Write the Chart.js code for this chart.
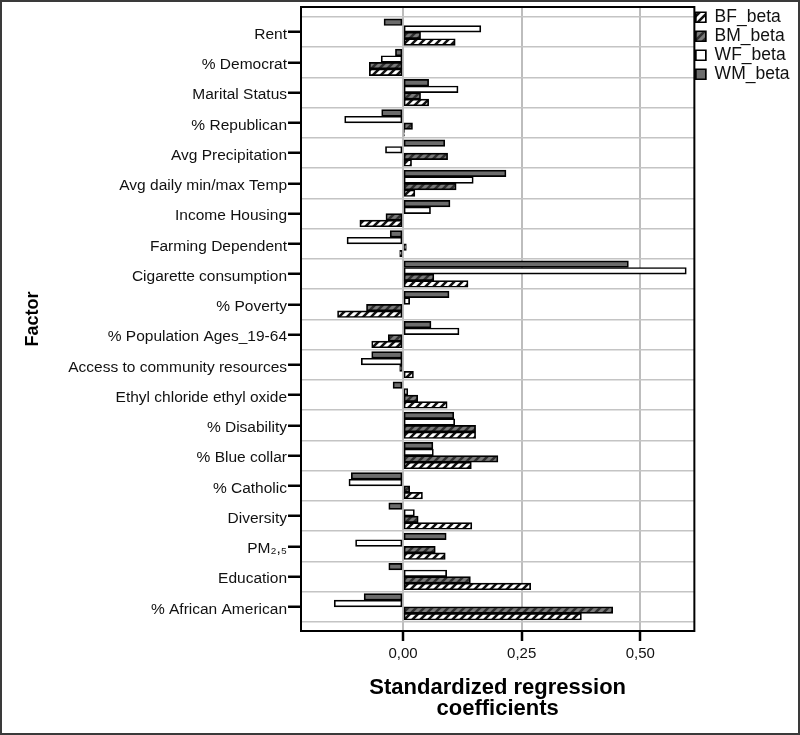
<!DOCTYPE html>
<html>
<head>
<meta charset="utf-8">
<script src="https://cdn.jsdelivr.net/npm/chart.js@4/dist/chart.umd.min.js"></script>
<style>
  html, body { margin: 0; padding: 0; background: #fff; }
  #wrap { width: 800px; height: 735px; position: relative; }
</style>
</head>
<body>
<div id="wrap"><canvas id="betaChart"></canvas></div>
<script>
// factors, top to bottom
const factors = ['Rent', '% Democrat', 'Marital Status', '% Republican', 'Avg Precipitation',
  'Avg daily min/max Temp', 'Income Housing', 'Farming Dependent', 'Cigarette consumption', '% Poverty',
  '% Population Ages_19-64', 'Access to community resources', 'Ethyl chloride ethyl oxide', '% Disability',
  '% Blue collar', '% Catholic', 'Diversity', 'PM\u2082,\u2085', 'Education', '% African American'];

const wmBeta = [-0.040, -0.016, 0.054, -0.045, 0.088, 0.217, 0.099, -0.027, 0.475, 0.097,
  0.059, -0.066, -0.021, 0.107, 0.063, -0.109, -0.030, 0.091, -0.030, -0.082];
const wfBeta = [0.164, -0.046, 0.116, -0.123, -0.037, 0.148, 0.058, -0.118, 0.597, 0.014,
  0.118, -0.088, 0.010, 0.109, 0.064, -0.114, 0.024, -0.100, 0.092, -0.145];
const bmBeta = [0.037, -0.071, 0.037, 0.020, 0.094, 0.112, -0.036, 0.007, 0.065, -0.077,
  -0.031, -0.007, 0.031, 0.153, 0.200, 0.014, 0.032, 0.068, 0.142, 0.442];
const bfBeta = [0.110, -0.071, 0.054, 0.003, 0.018, 0.025, -0.091, -0.007, 0.137, -0.138,
  -0.066, 0.022, 0.093, 0.153, 0.144, 0.041, 0.145, 0.089, 0.269, 0.376];

const xTicks = [0, 0.25, 0.5];

// category centres + boundaries (grid lines between factors)
const yTicks = [];
factors.forEach((f, i) => { yTicks.push(i - 0.5, i); });
yTicks.push(factors.length - 0.5);

const FONT = '"Liberation Sans", Arial, Helvetica, sans-serif';

function makeHatch(bg, fg) {
    const c = document.createElement('canvas');
    c.width = 8; c.height = 8;
    const g = c.getContext('2d');
    g.fillStyle = bg;
    g.fillRect(0, 0, 8, 8);
    g.strokeStyle = fg;
    g.lineWidth = 2.6;
    g.beginPath();
    g.moveTo(-1, 9); g.lineTo(9, -1);
    g.moveTo(-3, 3); g.lineTo(3, -3);
    g.moveTo(5, 11); g.lineTo(11, 5);
    g.stroke();
    return g.createPattern(c, 'repeat');
}

const toPoints = arr => arr.map((v, i) => ({ x: v, y: i }));
const isHalf = c => c.tick && !Number.isInteger(c.tick.value);

// frame round the plot + thin border round the picture
const framePlugin = {
    id: 'frame',
    afterDraw(chart) {
        const { ctx, chartArea: a } = chart;
        ctx.save();
        ctx.strokeStyle = '#000';
        ctx.lineWidth = 2;
        ctx.strokeRect(a.left, a.top, a.right - a.left, a.bottom - a.top);
        ctx.strokeStyle = '#3a3a3a';
        ctx.strokeRect(1, 1, chart.width - 2, chart.height - 2);
        ctx.restore();
    }
};

const common = { borderColor: '#000', borderWidth: 1.7, borderSkipped: false, barThickness: 6.6 };

new Chart(document.getElementById('betaChart').getContext('2d'), {
    type: 'bar',
    data: {
        datasets: [
            { label: 'WM_beta', data: toPoints(wmBeta), backgroundColor: '#6c6c6c', ...common },
            { label: 'WF_beta', data: toPoints(wfBeta), backgroundColor: '#ffffff', ...common },
            { label: 'BM_beta', data: toPoints(bmBeta), backgroundColor: makeHatch('#7a7a7a', '#2e2e2e'), ...common },
            { label: 'BF_beta', data: toPoints(bfBeta), backgroundColor: makeHatch('#ffffff', '#111111'), ...common }
        ]
    },
    options: {
        indexAxis: 'y',
        responsive: true,
        maintainAspectRatio: false,
        animation: false,
        layout: { padding: { left: 10, right: 0.5, top: 7, bottom: 10 } },
        plugins: {
            tooltip: { enabled: false },
            legend: {
                position: 'right',
                align: 'start',
                reverse: true,
                labels: { boxWidth: 10, boxHeight: 10, padding: 1.5, color: '#111',
                          font: { family: FONT, size: 17.5 } }
            }
        },
        scales: {
            x: {
                type: 'linear',
                min: -0.215,
                max: 0.614,
                afterBuildTicks: s => { s.ticks = xTicks.map(v => ({ value: v })); },
                afterFit: s => { s.height = 94; },
                grid: { color: '#bdbdbd', lineWidth: 2, tickColor: '#000', tickWidth: 2.5, tickLength: 10 },
                border: { color: '#000', width: 2 },
                ticks: { padding: 4, color: '#111', maxRotation: 0, autoSkip: false,
                         font: { family: FONT, size: 15 },
                         callback: v => v.toFixed(2).replace('.', ',') },
                title: { display: true, text: ['Standardized regression', 'coefficients'], color: '#000',
                         padding: { top: 0, bottom: 6 },
                         font: { family: FONT, size: 22, weight: 'bold', lineHeight: 0.95 } }
            },
            y: {
                type: 'linear',
                reverse: true,
                offset: false,
                min: -0.83,
                max: factors.length - 0.2,
                afterBuildTicks: s => { s.ticks = yTicks.map(v => ({ value: v })); },
                afterFit: s => { s.width = 291; s.paddingTop = 0; s.paddingBottom = 0; },
                grid: {
                    offset: false,
                    color: c => isHalf(c) ? '#c4c4c4' : 'rgba(0,0,0,0)',
                    lineWidth: 1.5,
                    tickColor: c => isHalf(c) ? 'rgba(0,0,0,0)' : '#000',
                    tickWidth: 2.5,
                    tickLength: 13
                },
                border: { color: '#000', width: 2 },
                ticks: { autoSkip: false, padding: 1, labelOffset: 2.5, color: '#111',
                         font: { family: FONT, size: 15.5 },
                         callback: v => Number.isInteger(v) ? factors[v] : '' },
                title: { display: true, text: 'Factor', color: '#000', padding: { top: 12 },
                         font: { family: FONT, size: 18, weight: 'bold' } }
            }
        }
    },
    plugins: [framePlugin]
});
</script>
</body>
</html>
